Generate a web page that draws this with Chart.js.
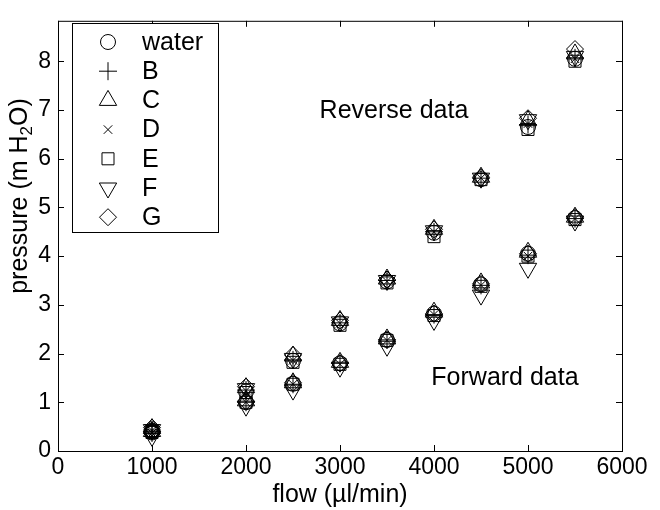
<!DOCTYPE html>
<html>
<head>
<meta charset="utf-8">
<script src="https://cdn.jsdelivr.net/npm/chart.js@4.4.0/dist/chart.umd.min.js"></script>
<style>
  html, body { margin: 0; padding: 0; background: #fff; }
</style>
</head>
<body>
<canvas id="graficaPresion" width="660" height="510"></canvas>
<script>
// datos
const flujo = [1000, 2000, 2500, 3000, 3500, 4000, 4500, 5000, 5500];
const nombres = ['water', 'B', 'C', 'D', 'E', 'F', 'G'];

// Reverse (serie superior)
const revWater = [0.42, 1.22, 1.85, 2.62, 3.48, 4.48, 5.58, 6.65, 8.05];
const revB     = [0.43, 1.25, 1.87, 2.63, 3.50, 4.50, 5.60, 6.70, 8.07];
const revC     = [0.46, 1.30, 1.95, 2.68, 3.53, 4.55, 5.62, 6.78, 8.15];
const revD     = [0.42, 1.24, 1.86, 2.62, 3.48, 4.50, 5.60, 6.72, 8.05];
const revE     = [0.40, 1.20, 1.82, 2.58, 3.45, 4.40, 5.57, 6.60, 8.00];
const revF     = [0.44, 1.28, 1.90, 2.65, 3.50, 4.52, 5.60, 6.80, 8.10];
const revG     = [0.48, 1.32, 1.97, 2.68, 3.52, 4.55, 5.62, 6.83, 8.25];

// Forward (serie inferior)
const fwdWater = [0.38, 1.00, 1.38, 1.80, 2.28, 2.82, 3.42, 4.05, 4.78];
const fwdB     = [0.37, 1.00, 1.37, 1.80, 2.28, 2.80, 3.40, 4.02, 4.77];
const fwdC     = [0.40, 1.03, 1.40, 1.82, 2.30, 2.85, 3.45, 4.08, 4.80];
const fwdD     = [0.37, 1.00, 1.37, 1.78, 2.27, 2.80, 3.40, 4.00, 4.77];
const fwdE     = [0.38, 1.00, 1.37, 1.78, 2.27, 2.78, 3.38, 4.00, 4.75];
const fwdF     = [0.30, 0.92, 1.25, 1.72, 2.15, 2.68, 3.20, 3.75, 4.72];
const fwdG     = [0.40, 1.02, 1.40, 1.80, 2.28, 2.82, 3.43, 4.05, 4.80];

const reverso = [revWater, revB, revC, revD, revE, revF, revG];
const directo = [fwdWater, fwdB, fwdC, fwdD, fwdE, fwdF, fwdG];

const marcadores = [
  { style: 'circle', rot: 0 },
  { style: 'cross', rot: 0 },
  { style: 'triangle', rot: 0 },
  { style: 'crossRot', rot: 0 },
  { style: 'rect', rot: 0 },
  { style: 'triangle', rot: 180 },
  { style: 'rectRot', rot: 0 }
];
const radios = [7.5, 9, 10, 6, 8.5, 10, 8.5];

const FUENTE = '"Liberation Sans", Arial, Helvetica, sans-serif';

const datasets = nombres.map((nombre, k) => ({
  label: nombre,
  data: flujo.map((x, i) => ({ x: x, y: reverso[k][i] }))
    .concat(flujo.map((x, i) => ({ x: x, y: directo[k][i] }))),
  showLine: false,
  pointStyle: marcadores[k].style,
  pointRotation: marcadores[k].rot,
  pointRadius: radios[k],
  pointBorderColor: '#000',
  pointBackgroundColor: 'rgba(0,0,0,0)',
  pointBorderWidth: 1
}));

// marco, marcas hacia dentro, leyenda y textos
const extras = {
  id: 'extras',
  afterDraw(chart) {
    const ctx = chart.ctx;
    const a = chart.chartArea;
    const sx = chart.scales.x, sy = chart.scales.y;
    ctx.save();
    ctx.strokeStyle = '#000';
    ctx.lineWidth = 1;
    ctx.strokeRect(a.left + 0.5, a.top + 0.5, a.right - a.left, a.bottom - a.top);
    ctx.beginPath();
    sx.ticks.forEach(t => {
      const px = Math.round(sx.getPixelForValue(t.value)) + 0.5;
      ctx.moveTo(px, a.bottom); ctx.lineTo(px, a.bottom - 6);
      ctx.moveTo(px, a.top); ctx.lineTo(px, a.top + 6);
    });
    sy.ticks.forEach(t => {
      const py = Math.round(sy.getPixelForValue(t.value)) + 0.5;
      ctx.moveTo(a.left, py); ctx.lineTo(a.left + 6, py);
      ctx.moveTo(a.right, py); ctx.lineTo(a.right - 6, py);
    });
    ctx.stroke();

    // leyenda
    ctx.fillStyle = '#fff';
    ctx.fillRect(72, 23, 147, 210);
    ctx.strokeRect(72.5, 23.5, 146, 209);
    ctx.font = '25px ' + FUENTE;
    ctx.textBaseline = 'middle';
    ctx.textAlign = 'left';
    nombres.forEach((n, k) => {
      const y = 42 + k * 29.2;
      ctx.fillStyle = 'rgba(0,0,0,0)';
      Chart.helpers.drawPoint(ctx, {
        pointStyle: marcadores[k].style,
        rotation: marcadores[k].rot,
        radius: radios[k],
        borderWidth: 1
      }, 108, y);
      ctx.fillStyle = '#000';
      ctx.fillText(n, 142, y + 1);
    });

    // textos
    ctx.font = '25px ' + FUENTE;
    ctx.textAlign = 'center';
    ctx.fillText('Reverse data', sx.getPixelForValue(3574), sy.getPixelForValue(6.98));
    ctx.fillText('Forward data', sx.getPixelForValue(4755), sy.getPixelForValue(1.49));

    // titulo eje y con subindice
    ctx.translate(20, 196);
    ctx.rotate(-Math.PI / 2);
    const f1 = '25px ' + FUENTE, f2 = '17px ' + FUENTE;
    const p1 = 'pressure (m H', p2 = '2', p3 = 'O)';
    ctx.font = f1; const w1 = ctx.measureText(p1).width, w3 = ctx.measureText(p3).width;
    ctx.font = f2; const w2 = ctx.measureText(p2).width;
    let x0 = -(w1 + w2 + w3) / 2;
    ctx.textAlign = 'left';
    ctx.font = f1; ctx.fillText(p1, x0, 0);
    ctx.font = f2; ctx.fillText(p2, x0 + w1, 7);
    ctx.font = f1; ctx.fillText(p3, x0 + w1 + w2, 0);
    ctx.restore();
  }
};

new Chart(document.getElementById('graficaPresion').getContext('2d'), {
  type: 'scatter',
  data: { datasets: datasets },
  options: {
    responsive: false,
    devicePixelRatio: 1,
    animation: false,
    layout: { padding: { top: 7, right: 38, left: 0, bottom: 0 } },
    plugins: { legend: { display: false }, tooltip: { enabled: false } },
    scales: {
      x: {
        type: 'linear', min: 0, max: 6000,
        grid: { display: false, drawTicks: false },
        border: { display: false },
        ticks: { stepSize: 1000, color: '#000', padding: 3, maxRotation: 0,
                 callback: v => String(v),
                 font: { family: FUENTE, size: 23 } },
        title: { display: true, text: 'flow (µl/min)', color: '#000', padding: 0,
                 font: { family: FUENTE, size: 25 } },
        afterFit: s => { s.height = 59; }
      },
      y: {
        type: 'linear', min: 0, max: 8.83,
        grid: { display: false, drawTicks: false },
        border: { display: false },
        ticks: { stepSize: 1, includeBounds: false, color: '#000', padding: 7,
                 font: { family: FUENTE, size: 23 } },
        afterFit: s => { s.width = 58; }
      }
    }
  },
  plugins: [extras]
});
</script>
</body>
</html>
